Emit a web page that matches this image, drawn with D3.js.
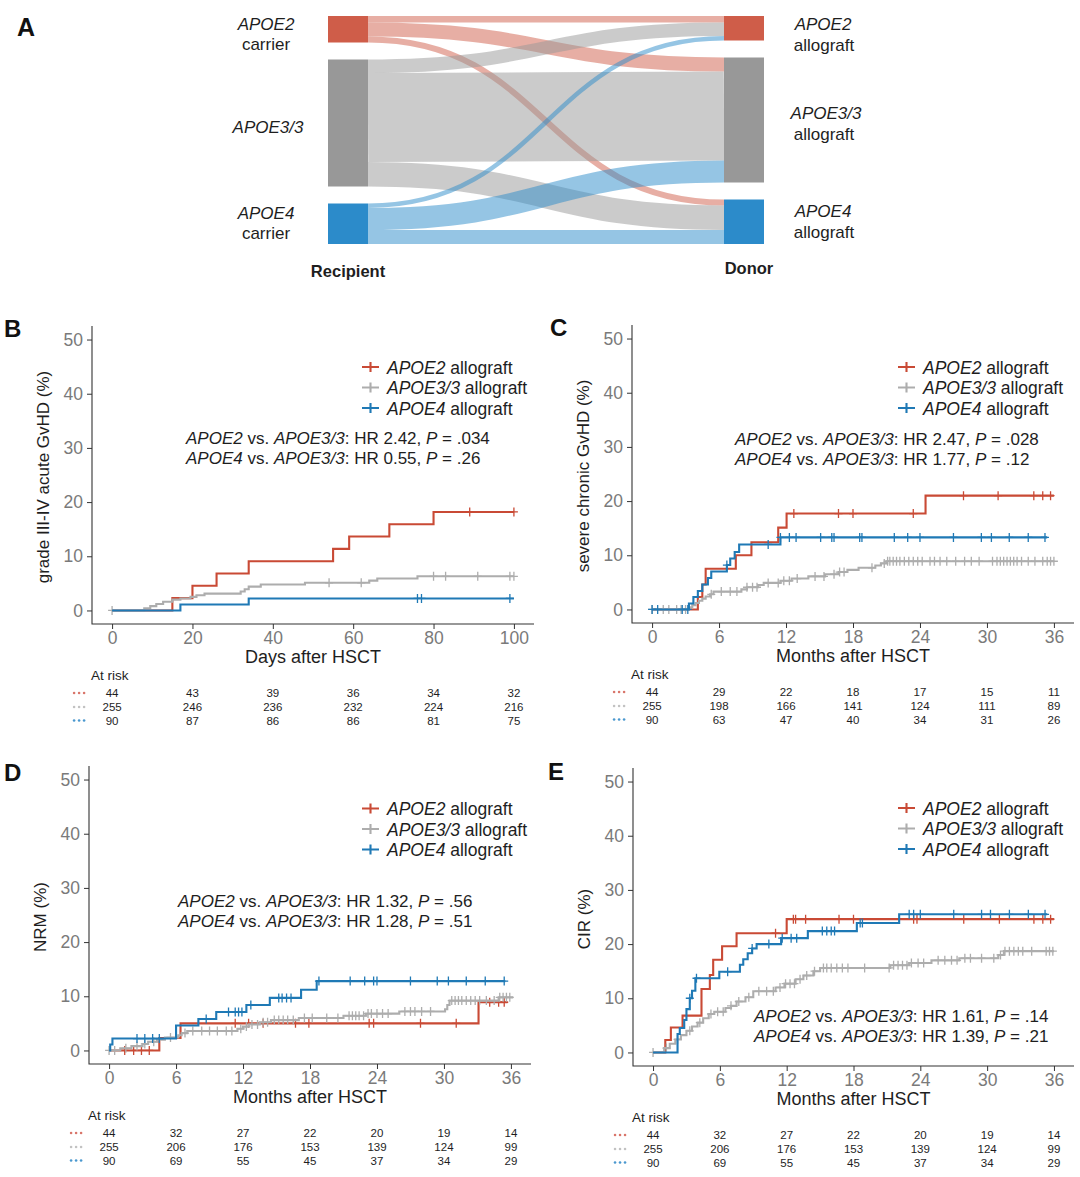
<!DOCTYPE html>
<html><head><meta charset="utf-8">
<script src="https://cdn.jsdelivr.net/npm/d3@7"></script>
<style>
body{margin:0;background:#fff;}
text{font-family:"Liberation Sans",Arial,Helvetica,sans-serif;white-space:pre;}
</style>
</head><body>
<svg id="fig" width="1080" height="1177"></svg>
<script>
// ---------------- DATA ----------------
// Sankey (panel A)
const sankeyGroups = ["APOE2", "APOE3/3", "APOE4"];
const recipientSuffix = ["carrier", "", "carrier"];
const donorSuffix = ["allograft", "allograft", "allograft"];
// rows: recipient group, cols: donor group
const sankeyFlows = [[13, 28, 12], [27, 178, 49], [9, 44, 28]];

// Shared tick labels
const yTicks = [0, 10, 20, 30, 40, 50];
const dayTicks = [0, 20, 40, 60, 80, 100];
const monthTicks = [0, 6, 12, 18, 24, 30, 36];
const seriesNames = ["APOE2", "APOE3/3", "APOE4"];

// Panel B: grade III-IV acute GvHD (days)
const B_red_t = [0, 15, 20, 26, 34, 55, 59, 69, 80];
const B_red_v = [0, 2.27, 4.55, 6.82, 9.09, 11.36, 13.64, 15.91, 18.18];
const B_red_c = [89, 100];
const B_gray_t = [0, 8, 9.5, 11, 12.7, 15, 17, 19.5, 21, 23, 32, 33, 34, 37, 48, 64, 66, 76];
const B_gray_v = [0, 0.4, 0.8, 1.2, 1.6, 2.0, 2.2, 2.5, 2.8, 3.1, 3.5, 3.9, 4.4, 4.8, 5.1, 5.5, 5.9, 6.3];
const B_gray_c = [0, 54, 62, 80, 83, 91, 99, 100];
const B_blue_t = [0, 17, 34];
const B_blue_v = [0, 1.11, 2.22];
const B_blue_c = [76, 77, 99];
const B_end = [100, 100, 100];
const B_risk = [[44, 43, 39, 36, 34, 32], [255, 246, 236, 232, 224, 216], [90, 87, 86, 86, 81, 75]];
const B_stats = ["2.42", ".034", "0.55", ".26"];

// Panel C: severe chronic GvHD (months)
const C_red_t = [0, 4.1, 4.5, 4.8, 7.5, 8.9, 11.3, 12.05, 24.5];
const C_red_v = [0, 2.3, 4.6, 7.5, 10.0, 12.4, 15.1, 17.7, 21.0];
const C_red_c = [12.7, 16.7, 18, 23.4, 27.9, 31, 34.2, 35, 35.7];
const C_gray_t = [0, 3.3, 3.6, 3.9, 4.2, 4.5, 4.8, 5.2, 5.5, 8.0, 8.5, 9.5, 10.0, 11.5, 12.5, 14.0, 15.5, 16.7, 17.5, 18.5, 20.0, 20.5, 21.0];
const C_gray_v = [0, 0.4, 0.8, 1.2, 1.6, 2.0, 2.4, 2.8, 3.3, 3.7, 4.1, 4.5, 4.9, 5.3, 5.7, 6.1, 6.5, 6.9, 7.3, 7.7, 8.1, 8.5, 8.9];
const C_gray_c = [0, 1, 1.5, 2.2, 2.6, 3.0, 5.3, 6.2, 7.0, 7.6, 8.5, 9.0, 9.4, 10.4, 11.3, 11.8, 12.3, 13.0, 14.6, 15.4, 16.3, 16.8, 17.2, 19.7, 20.8, 21.1, 21.3, 21.6, 21.9, 22.2, 22.6, 23.0, 23.4, 23.8, 24.2, 24.9, 25.3, 25.8, 26.4, 27.2, 28.0, 28.6, 29.3, 30.5, 30.9, 31.2, 31.5, 31.8, 32.1, 32.4, 32.7, 33.1, 33.7, 34.3, 35.0, 35.4, 35.7, 36];
const C_blue_t = [0, 3.3, 3.7, 4.1, 4.5, 5.0, 5.3, 6.7, 7.0, 7.4, 7.8, 11.5];
const C_blue_v = [0, 1.1, 2.3, 3.4, 4.6, 5.8, 7.0, 8.2, 9.4, 10.6, 12.0, 13.3];
const C_blue_c = [0, 0.5, 2.7, 3.2, 6.7, 10.4, 11.5, 12.3, 12.9, 15.1, 16.1, 16.3, 18.6, 18.8, 21.7, 22.9, 24, 27, 29.5, 30.4, 32, 33.7, 35.2];
const C_end = [36, 36, 35.4];
const C_risk = [[44, 29, 22, 18, 17, 15, 11], [255, 198, 166, 141, 124, 111, 89], [90, 63, 47, 40, 34, 31, 26]];
const C_stats = ["2.47", ".028", "1.77", ".12"];

// Panel D: NRM (months)
const D_red_t = [0, 4.5, 6.4, 33.1];
const D_red_v = [0, 2.3, 5.0, 8.9];
const D_red_c = [1.4, 2.2, 2.9, 3.6, 11.3, 12.5, 13.8, 16.7, 17.9, 23.3, 23.7, 27.9, 31.1, 34.1, 34.9, 35.4];
const D_gray_t = [0, 1, 2, 3, 3.5, 4.3, 5, 6.2, 6.5, 7, 11.5, 12, 12.5, 13.5, 14.5, 17, 21, 23, 26, 30.1, 30.3, 30.5, 34.9];
const D_gray_v = [0, 0.4, 0.8, 1.2, 1.6, 2.0, 2.4, 2.8, 3.2, 3.6, 4.0, 4.4, 4.8, 5.2, 5.6, 6.0, 6.4, 6.8, 7.2, 7.6, 8.4, 9.2, 9.8];
const D_gray_c = [0, 0.5, 1.5, 2.5, 3.2, 4.0, 5.5, 6.8, 7.5, 8.3, 9.0, 9.7, 10.5, 11.0, 11.8, 12.3, 12.8, 13.3, 13.8, 14.2, 14.8, 15.2, 15.6, 16.0, 16.5, 17.5, 18.2, 19.5, 20.5, 21.5, 21.8, 22.1, 22.4, 22.8, 23.2, 23.5, 24.0, 24.5, 25.0, 26.5, 27.0, 27.4, 28.0, 28.8, 30.7, 31.0, 31.3, 31.6, 32.0, 32.4, 32.8, 33.2, 33.8, 34.5, 35.0, 35.3, 35.6, 35.9];
const D_blue_t = [0, 0.1, 0.3, 6.0, 8.0, 9.6, 12.3, 14.4, 17.2, 18.6];
const D_blue_v = [0, 1.1, 2.2, 4.6, 5.8, 7.1, 8.4, 9.7, 11.2, 12.8];
const D_blue_c = [2.5, 3.2, 3.9, 4.5, 8.7, 10.7, 11.3, 11.6, 11.9, 12.7, 15.2, 15.5, 15.9, 16.3, 18.8, 21.6, 22.9, 23.7, 24, 27, 29.4, 30.4, 32, 33.7, 35.4];
const D_end = [35.7, 36.2, 35.5];
const D_risk = [[44, 32, 27, 22, 20, 19, 14], [255, 206, 176, 153, 139, 124, 99], [90, 69, 55, 45, 37, 34, 29]];
const D_stats = ["1.32", ".56", "1.28", ".51"];

// Panel E: CIR (months)
const E_red_t = [0, 1.1, 1.6, 2.65, 4.35, 5.1, 5.4, 6.2, 7.5, 12.0];
const E_red_v = [0, 2.3, 4.6, 6.8, 11.7, 14.3, 17.1, 19.6, 22.0, 24.6];
const E_red_c = [11, 12.6, 12.8, 13.7, 16.7, 18, 23.4, 23.7, 27.9, 31.1, 34.2, 35, 35.7];
const E_gray_t = [0, 1.0, 1.5, 2.0, 2.5, 3.0, 3.5, 4.0, 4.5, 5.0, 5.5, 6.5, 7.0, 7.5, 8.3, 9.0, 11.0, 11.8, 12.8, 13.5, 14.4, 15.0, 21.3, 23.0, 25.0, 27.5, 31.0, 31.5];
const E_gray_v = [0, 0.8, 1.6, 2.4, 3.2, 4.0, 4.8, 5.5, 6.3, 7.1, 7.5, 8.2, 8.6, 9.4, 10.2, 11.3, 12.0, 12.7, 13.5, 14.2, 15.0, 15.6, 16.1, 16.5, 17.0, 17.4, 18.0, 18.7];
const E_gray_c = [0, 1.2, 2.2, 3.3, 4.2, 5.2, 5.8, 6.3, 7.0, 7.7, 8.6, 9.5, 10.2, 10.8, 11.4, 11.9, 12.3, 12.7, 13.2, 13.8, 14.5, 15.3, 15.6, 16.0, 16.5, 17.0, 17.5, 19.0, 21.2, 21.6, 22.0, 22.4, 22.8, 23.2, 23.8, 24.3, 25.6, 26.2, 26.8, 27.3, 28.0, 28.5, 29.5, 30.6, 31.2, 31.6, 32.0, 32.4, 32.8, 33.2, 34.0, 35.3, 35.6, 35.9];
const E_blue_t = [0, 2.2, 2.4, 2.8, 3.0, 3.3, 3.5, 3.8, 5.95, 7.8, 8.1, 8.5, 8.9, 9.3, 11.5, 13.9, 18.3, 22.1];
const E_blue_v = [0, 3.4, 4.5, 6.0, 8.0, 10.0, 11.4, 13.7, 14.9, 16.2, 17.2, 18.3, 19.2, 20.0, 21.1, 22.4, 23.9, 25.5];
const E_blue_c = [3.3, 3.9, 6.7, 8.9, 10.4, 11.6, 12.4, 12.9, 15.2, 15.6, 16, 16.3, 18.6, 18.8, 23, 23.4, 24, 27, 29.5, 30.3, 32, 33.7, 35.2];
const E_end = [36, 36, 35.4];
const E_risk = [[44, 32, 27, 22, 20, 19, 14], [255, 206, 176, 153, 139, 124, 99], [90, 69, 55, 45, 37, 34, 29]];
const E_stats = ["1.61", ".14", "1.39", ".21"];

// ---------------- STYLE ----------------
const nodeColors = ["#CF5D49", "#989898", "#2C8BCA"];
const lineColors = ["#C94A35", "#ADADAD", "#1F79B5"];
const dotColors = ["#D9756A", "#C2C2C2", "#4A98CF"];
const axisColor = "#333";
const tickTextColor = "#7a7a7a";
const textColor = "#1e1e1e";

const svg = d3.select("#fig");

function rich(g, x, y, parts, size, anchor) {
  const t = g.append("text").attr("x", x).attr("y", y).attr("font-size", size)
    .attr("fill", textColor).attr("text-anchor", anchor || "start");
  parts.forEach(p => t.append("tspan").attr("font-style", p[1] ? "italic" : "normal").text(p[0]));
  return t;
}

// ---------------- PANEL A: SANKEY ----------------
(function () {
  const g = svg.append("g");
  const top = 16, bottom = 244, gap = 17;
  const xL0 = 328, xL1 = 368, xR0 = 724, xR1 = 764;
  const leftTot = sankeyFlows.map(r => d3.sum(r));
  const rightTot = sankeyGroups.map((_, j) => d3.sum(sankeyFlows, r => r[j]));
  const total = d3.sum(leftTot);
  const k = d3.scaleLinear().domain([0, total]).range([0, bottom - top - 2 * gap]);
  const stack = tots => { let y = top; return tots.map(t => { const n = { y0: y, y1: y + k(t) }; y = n.y1 + gap; return n; }); };
  const L = stack(leftTot), R = stack(rightTot);
  const sOff = L.map(n => n.y0), tOff = R.map(n => n.y0);
  const links = [];
  sankeyFlows.forEach((row, i) => row.forEach((v, j) => {
    const w = k(v);
    links.push({ i, j, w, sy: sOff[i] + w / 2, ty: tOff[j] + w / 2 });
    sOff[i] += w; tOff[j] += w;
  }));
  const lk = d3.linkHorizontal();
  g.selectAll("path.link").data(links).join("path")
    .attr("d", d => lk({ source: [xL1, d.sy], target: [xR0, d.ty] }))
    .attr("fill", "none").attr("stroke", d => nodeColors[d.i])
    .attr("stroke-opacity", 0.5).attr("stroke-width", d => d.w);
  g.selectAll("rect.l").data(L).join("rect").attr("x", xL0).attr("width", xL1 - xL0)
    .attr("y", d => d.y0).attr("height", d => d.y1 - d.y0).attr("fill", (d, i) => nodeColors[i]);
  g.selectAll("rect.r").data(R).join("rect").attr("x", xR0).attr("width", xR1 - xR0)
    .attr("y", d => d.y0).attr("height", d => d.y1 - d.y0).attr("fill", (d, i) => nodeColors[i]);
  const fs = 17;
  // label line offsets (centre of first line relative to node centre)
  const leftOff = [-5, 4, -10.5], rightOff = [-4, -7, -10.5];
  sankeyGroups.forEach((name, i) => {
    const cy = (L[i].y0 + L[i].y1) / 2 + leftOff[i];
    rich(g, recipientSuffix[i] ? 266 : 268, cy + 6, [[name, true]], fs, "middle");
    if (recipientSuffix[i]) rich(g, 266, cy + 26, [[recipientSuffix[i], false]], fs, "middle");
    const cr = (R[i].y0 + R[i].y1) / 2 + rightOff[i];
    rich(g, i === 1 ? 826 : 823, cr + 6, [[name, true]], fs, "middle");
    rich(g, 824, cr + 26.5, [[donorSuffix[i], false]], fs, "middle");
  });
  g.append("text").attr("x", 348).attr("y", 277).attr("text-anchor", "middle")
    .attr("font-size", 16.5).attr("font-weight", "bold").attr("fill", textColor).text("Recipient");
  g.append("text").attr("x", 749).attr("y", 274).attr("text-anchor", "middle")
    .attr("font-size", 16.5).attr("font-weight", "bold").attr("fill", textColor).text("Donor");
  g.append("text").attr("x", 17).attr("y", 36).attr("font-size", 25).attr("font-weight", "bold")
    .attr("fill", "#111").text("A");
})();

// ---------------- KM PANELS ----------------
function drawPanel(c) {
  const g = svg.append("g");
  const x = d3.scaleLinear().domain([-0.05 * c.xmax, 1.05 * c.xmax]).range([c.left, c.right]);
  const y = d3.scaleLinear().domain([-2.5, 52.5]).range([c.bottom, c.bottom - 298]);

  const ya = g.append("g").attr("transform", `translate(${c.left},0)`)
    .call(d3.axisLeft(y).tickValues(yTicks).tickSize(5).tickPadding(4));
  const xa = g.append("g").attr("transform", `translate(0,${c.bottom})`)
    .call(d3.axisBottom(x).tickValues(c.xticks).tickSize(5).tickPadding(3));
  [ya, xa].forEach(a => {
    a.select(".domain").remove();
    a.selectAll(".tick line").attr("stroke", axisColor);
    a.selectAll(".tick text").attr("font-size", 17.5).attr("fill", tickTextColor)
      .attr("font-family", "Liberation Sans, Arial, sans-serif");
  });
  g.append("path").attr("d", `M${c.left},${y.range()[1]}V${c.bottom}H${c.right}`)
    .attr("fill", "none").attr("stroke", axisColor).attr("stroke-width", 1.1);

  // axis titles
  g.append("text").attr("x", (x(0) + x(c.xmax)) / 2).attr("y", c.bottom + 39)
    .attr("text-anchor", "middle").attr("font-size", 18).attr("fill", textColor).text(c.xtitle);
  g.append("text").attr("transform", `translate(${c.left - 49},${(c.bottom + y.range()[1]) / 2 + 2}) rotate(-90)`)
    .attr("text-anchor", "middle").attr("dominant-baseline", "central")
    .attr("font-size", 17).attr("fill", textColor).text(c.ytitle);

  // curves
  const line = d3.line().x(d => x(d[0])).y(d => y(d[1])).curve(d3.curveStepAfter);
  c.series.forEach((s, si) => {
    const pts = s.t.map((t, i) => [t, s.v[i]]);
    pts.push([c.ends[si], s.v[s.v.length - 1]]);
    g.append("path").attr("d", line(pts)).attr("fill", "none")
      .attr("stroke", lineColors[si]).attr("stroke-width", 2.1);
    const val = t => s.v[Math.max(0, d3.bisectRight(s.t, t) - 1)];
    g.append("g").selectAll("path").data(s.c).join("path")
      .attr("d", t => { const cx = x(t), cy = y(val(t)); return `M${cx - 4},${cy}H${cx + 4}M${cx},${cy - 4.5}V${cy + 4.5}`; })
      .attr("stroke", lineColors[si]).attr("stroke-width", 1.3).attr("fill", "none");
  });

  // legend
  seriesNames.forEach((n, i) => {
    const ly = c.legendY[i];
    g.append("path").attr("d", `M${c.legendX},${ly}h17M${c.legendX + 8.5},${ly - 5}v10`)
      .attr("stroke", lineColors[i]).attr("stroke-width", 2.1).attr("fill", "none");
    rich(g, c.legendX + 25, ly + 6.5, [[n, true], [" allograft", false]], 17.5);
  });

  // annotation
  rich(g, c.annX, c.annY[0], [["APOE2", true], [" vs. ", false], ["APOE3/3", true], [": HR " + c.stats[0] + ", ", false], ["P", true], [" = " + c.stats[1], false]], 17);
  rich(g, c.annX, c.annY[1], [["APOE4", true], [" vs. ", false], ["APOE3/3", true], [": HR " + c.stats[2] + ", ", false], ["P", true], [" = " + c.stats[3], false]], 17);

  // panel label
  g.append("text").attr("x", c.labelX).attr("y", c.labelY).attr("font-size", 24)
    .attr("font-weight", "bold").attr("fill", "#111").text(c.label);

  // at-risk table
  g.append("text").attr("x", c.left - 1).attr("y", c.bottom + 56).attr("font-size", 13.5)
    .attr("fill", textColor).text("At risk");
  const rowY = [73, 87, 100.5];
  c.risk.forEach((row, ri) => {
    const by = c.bottom + rowY[ri];
    [38, 33, 28].forEach(dx => g.append("circle").attr("cx", x(0) - dx).attr("cy", by - 4)
      .attr("r", 1.3).attr("fill", dotColors[ri]));
    row.forEach((v, k) => g.append("text").attr("x", x(c.xticks[k])).attr("y", by)
      .attr("text-anchor", "middle").attr("font-size", 11.5).attr("fill", textColor).text(v));
  });
}

drawPanel({
  label: "B", labelX: 4, labelY: 337, left: 92, right: 534, bottom: 624, xmax: 100, xticks: dayTicks,
  xtitle: "Days after HSCT", ytitle: "grade III-IV acute GvHD (%)",
  series: [{ t: B_red_t, v: B_red_v, c: B_red_c }, { t: B_gray_t, v: B_gray_v, c: B_gray_c }, { t: B_blue_t, v: B_blue_v, c: B_blue_c }],
  ends: B_end, risk: B_risk, stats: B_stats,
  legendX: 362, legendY: [367, 387.5, 408], annX: 186, annY: [444, 464]
});
drawPanel({
  label: "C", labelX: 550, labelY: 336, left: 632, right: 1074, bottom: 623, xmax: 36, xticks: monthTicks,
  xtitle: "Months after HSCT", ytitle: "severe chronic GvHD (%)",
  series: [{ t: C_red_t, v: C_red_v, c: C_red_c }, { t: C_gray_t, v: C_gray_v, c: C_gray_c }, { t: C_blue_t, v: C_blue_v, c: C_blue_c }],
  ends: C_end, risk: C_risk, stats: C_stats,
  legendX: 898, legendY: [367, 387.5, 408], annX: 735, annY: [445, 464.5]
});
drawPanel({
  label: "D", labelX: 4, labelY: 781, left: 89, right: 531, bottom: 1064, xmax: 36, xticks: monthTicks,
  xtitle: "Months after HSCT", ytitle: "NRM (%)",
  series: [{ t: D_red_t, v: D_red_v, c: D_red_c }, { t: D_gray_t, v: D_gray_v, c: D_gray_c }, { t: D_blue_t, v: D_blue_v, c: D_blue_c }],
  ends: D_end, risk: D_risk, stats: D_stats,
  legendX: 362, legendY: [808.5, 829, 849.5], annX: 178, annY: [907, 926.5]
});
drawPanel({
  label: "E", labelX: 548, labelY: 780, left: 633, right: 1074, bottom: 1066, xmax: 36, xticks: monthTicks,
  xtitle: "Months after HSCT", ytitle: "CIR (%)",
  series: [{ t: E_red_t, v: E_red_v, c: E_red_c }, { t: E_gray_t, v: E_gray_v, c: E_gray_c }, { t: E_blue_t, v: E_blue_v, c: E_blue_c }],
  ends: E_end, risk: E_risk, stats: E_stats,
  legendX: 898, legendY: [808, 828.5, 849], annX: 754, annY: [1022, 1042]
});
</script>
</body></html>
